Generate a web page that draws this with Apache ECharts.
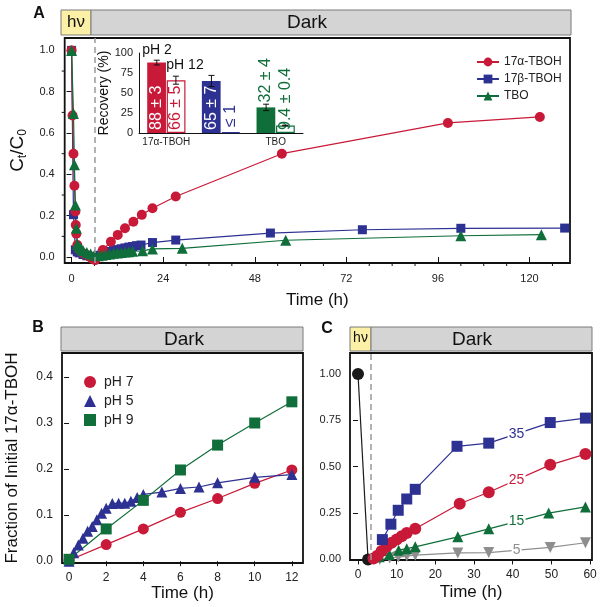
<!DOCTYPE html>
<html>
<head>
<meta charset="utf-8">
<script src="https://cdn.jsdelivr.net/npm/echarts@6/dist/echarts.min.js"></script>
<style>
html, body { margin: 0; padding: 0; background: #fff; }
#chart { width: 603px; height: 607px; }
</style>
</head>
<body>
<div id="chart"></div>
<script>
// ---- panel A : [time (h), Ct/C0]
var aTboh17a = [[0, 1.0], [0.25, 0.685], [0.5, 0.50], [0.75, 0.345], [1, 0.22], [1.1, 0.155], [1.25, 0.113],
    [1.5, 0.058], [2, 0.034], [3, 0.018], [4, 0.01], [4.8, 0.0], [5.5, -0.01], [6.2, -0.015], [8.2, 0.034],
    [10.3, 0.074], [12.1, 0.107], [14, 0.139], [16.2, 0.171], [18.4, 0.204], [21.2, 0.236], [27.3, 0.293],
    [55.1, 0.50], [98.6, 0.649], [122.7, 0.678]];
var aTboh17b = [[0, 1.0], [0.5, 0.205], [1, 0.035], [1.5, 0.025], [2, 0.02], [3, 0.012], [4, 0.006], [5, 0.003],
    [6, 0.002], [7, 0.008], [8, 0.015], [9, 0.02], [10, 0.027], [11, 0.032], [12, 0.036], [13, 0.04], [14, 0.044],
    [15, 0.048], [16, 0.051], [17, 0.055], [18.2, 0.058], [21.2, 0.07], [27.3, 0.082], [52.1, 0.116],
    [76.2, 0.132], [102, 0.139], [129.2, 0.14]];
var aTbo = [[0, 1.0], [0.5, 0.694], [0.75, 0.447], [1, 0.252], [1.25, 0.139], [1.5, 0.062], [2, 0.048], [2.5, 0.04],
    [3, 0.032], [4, 0.022], [5, 0.014], [6, 0.008], [7, 0.006], [8, 0.009], [9, 0.012], [10, 0.015], [11, 0.018],
    [12, 0.02], [13, 0.022], [14, 0.024], [15, 0.026], [16, 0.028], [18.6, 0.03], [21.2, 0.039], [29, 0.042],
    [56.1, 0.081], [102, 0.103], [123.1, 0.108]];
var aTimeTicks = [0, 24, 48, 72, 96, 120];
var aTimeMinor = [6, 12, 18, 30, 36, 42, 54, 60, 66, 78, 84, 90, 102, 108, 114, 126];
var aRatioTicks = [0, 0.2, 0.4, 0.6, 0.8, 1.0];
var aRatioMinor = [0.1, 0.3, 0.5, 0.7, 0.9];
var aDarkStart = 6.2;

// ---- panel A inset : recovery (%)
var insetCats = ['17α-TBOH', '17β-TBOH', 'TBO'];
var recPH2 = [88, 65, 32];
var errPH2 = [3, 7, 4];
var recPH12 = [66, 1, 9.4];
var errPH12 = [5, 0, 0.4];
var labelPH2 = ['88 ± 3', '65 ± 7', '32 ± 4'];
var labelPH12 = ['66 ± 5', '≤ 1', '9.4 ± 0.4'];

// ---- panel B : fraction of initial 17a-TBOH
var bHours = [0, 2, 4, 6, 8, 10, 12];
var bPH7 = [0.002, 0.036, 0.07, 0.106, 0.136, 0.169, 0.198];
var bPH9 = [0.004, 0.07, 0.132, 0.198, 0.252, 0.30, 0.346];
var bPH5 = [[0, 0.0], [0.25, 0.018], [0.5, 0.035], [0.75, 0.05], [1, 0.065], [1.25, 0.075], [1.5, 0.09],
    [1.75, 0.104], [2, 0.115], [2.33, 0.125], [2.67, 0.126], [3, 0.126], [3.33, 0.13], [3.67, 0.138],
    [4, 0.145], [5, 0.15], [6, 0.158], [7, 0.161], [8, 0.17], [10, 0.182], [12, 0.188]];
var bTimeTicks = [0, 2, 4, 6, 8, 10, 12];
var bFracTicks = [0, 0.1, 0.2, 0.3, 0.4];

// ---- panel C : photolysis time series (labels 35/25/15/5)
var cStart = [[0, 1.0], [2.6, 0.0]];
var c35 = [[6.3, 0.107], [8.5, 0.19], [10.4, 0.265], [12.6, 0.326], [14.8, 0.378], [25.6, 0.61], [33.8, 0.627],
    [49.7, 0.738], [58.8, 0.762]];
var c25 = [[4.0, 0.005], [5, 0.02], [6.1, 0.045], [7.4, 0.07], [8.7, 0.09], [10, 0.107], [11.3, 0.125],
    [12.6, 0.143], [14.8, 0.165], [26.3, 0.30], [33.8, 0.362], [49.7, 0.51], [58.8, 0.568]];
var c15 = [[5.5, 0.015], [8.1, 0.027], [10.5, 0.05], [12.6, 0.058], [14.8, 0.068], [25.8, 0.122], [33.8, 0.165],
    [49.3, 0.25], [58.8, 0.283]];
var c5 = [[5.6, 0.0], [8.2, 0.008], [10.4, 0.013], [12.6, 0.018], [14.8, 0.023], [25.8, 0.035], [33.8, 0.037],
    [49.7, 0.065], [58.8, 0.09]];
var cTimeTicks = [0, 10, 20, 30, 40, 50, 60];
var cFracTicks = [0, 0.25, 0.5, 0.75, 1.0];
var cDarkStart = 3.4;
var cLabelAt = 41;

var FONT = '"Liberation Sans", Arial, Helvetica, sans-serif';
var RED = '#C81A38', BLUE = '#2D3192', GREEN = '#0F6E3A', GRAY = '#8E8E8E', BLACK = '#1A1A1A';
var INK = '#222';

var chart = echarts.init(document.getElementById('chart'));

// y on the polyline at time x (used only to sit the curve labels on their line)
function onLine(pts, x) {
    for (var i = 1; i < pts.length; i++) {
        if (x <= pts[i][0]) {
            var f = (x - pts[i - 1][0]) / (pts[i][0] - pts[i - 1][0]);
            return pts[i - 1][1] + f * (pts[i][1] - pts[i - 1][1]);
        }
    }
    return pts[pts.length - 1][1];
}

function tickAxis(grid, pos, min, max, ticks, fmt, size, margin) {
    return {
        type: 'value', gridIndex: grid, position: pos, min: min, max: max,
        axisLine: { show: false }, splitLine: { show: false },
        axisTick: { customValues: ticks, length: 5, lineStyle: { color: '#111', width: 1 } },
        axisLabel: { customValues: ticks, formatter: fmt, fontSize: size, color: INK, margin: margin, fontFamily: FONT }
    };
}
function nameStyle(size) {
    return { fontSize: size, color: '#111', fontFamily: FONT };
}
function f1(v) { return v.toFixed(1); }
function f2(v) { return v.toFixed(2); }

var xA = tickAxis(0, 'bottom', -1.8, 130.6, aTimeTicks, function (v) { return String(v); }, 11, 10);
xA.name = 'Time (h)'; xA.nameLocation = 'middle'; xA.nameGap = 29; xA.nameTextStyle = nameStyle(17);
var yA = tickAxis(0, 'left', -0.029, 1.06, aRatioTicks, f1, 11, 10);
yA.name = '{m|C}{s|t}{m|/C}{s|0}'; yA.nameLocation = 'middle'; yA.nameGap = 35; yA.nameRotate = 90;
yA.nameTextStyle = {
    color: '#111', fontFamily: FONT,
    rich: {
        m: { fontSize: 19, lineHeight: 22, fontFamily: FONT, color: '#111' },
        s: { fontSize: 12, lineHeight: 12, verticalAlign: 'bottom', fontFamily: FONT, color: '#111' }
    }
};

var xB = tickAxis(2, 'bottom', -0.38, 12.6, bTimeTicks, function (v) { return String(v); }, 12, 9);
xB.name = 'Time (h)'; xB.nameLocation = 'middle'; xB.nameGap = 21; xB.nameTextStyle = nameStyle(17);
var yB = tickAxis(2, 'left', -0.004, 0.452, bFracTicks, f1, 12, 9);
yB.name = 'Fraction of Initial 17α-TBOH'; yB.nameLocation = 'middle'; yB.nameGap = 41; yB.nameRotate = 90;
yB.nameTextStyle = nameStyle(17);

var xC = tickAxis(3, 'bottom', -2.07, 60.5, cTimeTicks, function (v) { return String(v); }, 12, 9);
xC.name = 'Time (h)'; xC.nameLocation = 'middle'; xC.nameGap = 24; xC.nameTextStyle = nameStyle(17);
var yC = tickAxis(3, 'left', -0.003, 1.113, cFracTicks, f2, 11, 9);

var xInset = {
    type: 'category', gridIndex: 1, data: insetCats,
    axisLine: { lineStyle: { color: '#111', width: 1 } },
    axisTick: { length: 3, lineStyle: { color: '#111' } },
    axisLabel: { fontSize: 10, color: INK, margin: 4, fontFamily: FONT }
};
var yInset = {
    type: 'value', gridIndex: 1, min: 0, max: 100, interval: 25,
    axisLine: { show: true, lineStyle: { color: '#111', width: 1 } },
    axisTick: { length: 4, lineStyle: { color: '#111' } },
    splitLine: { show: false },
    axisLabel: { fontSize: 11, color: INK, margin: 6, fontFamily: FONT },
    name: 'Recovery (%)', nameLocation: 'middle', nameGap: 25, nameRotate: 90,
    nameTextStyle: nameStyle(14)
};

var barColors = [RED, BLUE, GREEN];
var ph2LabelColor = ['#fff', '#fff', GREEN];
var ph2LabelPos = ['insideBottom', 'insideBottom', 'top'];
var ph12LabelPos = ['insideBottom', 'top', 'insideBottom'];

function barLabel(text, color, pos) {
    return {
        show: true, formatter: text, color: color, position: pos, rotate: 90,
        align: 'left', verticalAlign: 'middle', distance: pos === 'top' ? 5 : 3,
        fontSize: 16, fontFamily: FONT
    };
}
var ph2Data = recPH2.map(function (v, i) {
    return { value: v, itemStyle: { color: barColors[i] }, label: barLabel(labelPH2[i], ph2LabelColor[i], ph2LabelPos[i]) };
});
var ph12Data = recPH12.map(function (v, i) {
    return {
        value: v,
        itemStyle: { color: i === 1 ? BLUE : '#fff', borderColor: barColors[i], borderWidth: 1.2 },
        label: barLabel(labelPH12[i], barColors[i], ph12LabelPos[i])
    };
});
var errData = [];
recPH2.forEach(function (v, i) { if (errPH2[i]) errData.push([i, v, errPH2[i], -1]); });
recPH12.forEach(function (v, i) { if (errPH12[i]) errData.push([i, v, errPH12[i], 1]); });

function renderErr(params, api) {
    var ci = api.value(0), v = api.value(1), e = api.value(2), side = api.value(3);
    var band = api.size([1, 0])[0];
    var bw = band * 0.7 / 2;
    var x = api.coord([ci, v])[0] + side * bw / 2;
    var yt = api.coord([ci, v + e])[1], yb = api.coord([ci, v - e])[1];
    var st = { stroke: '#111', lineWidth: 1 };
    return {
        type: 'group', children: [
            { type: 'line', shape: { x1: x, y1: yt, x2: x, y2: yb }, style: st },
            { type: 'line', shape: { x1: x - 3, y1: yt, x2: x + 3, y2: yt }, style: st },
            { type: 'line', shape: { x1: x - 3, y1: yb, x2: x + 3, y2: yb }, style: st }
        ]
    };
}

// short outward minor ticks on panel A, placed through the panel's own scales
function renderMinorX(params, api) {
    var cs = params.coordSys;
    var x = api.coord([api.value(0), 0])[0];
    var y = cs.y + cs.height;
    return { type: 'line', shape: { x1: x, y1: y, x2: x, y2: y + 3 }, style: { stroke: '#111', lineWidth: 1 } };
}
function renderMinorY(params, api) {
    var cs = params.coordSys;
    var y = api.coord([0, api.value(0)])[1];
    return { type: 'line', shape: { x1: cs.x - 3, y1: y, x2: cs.x, y2: y }, style: { stroke: '#111', lineWidth: 1 } };
}

function lineSeries(name, xi, yi, data, color, symbol, size, extra) {
    var s = {
        name: name, type: 'line', xAxisIndex: xi, yAxisIndex: yi, data: data,
        symbol: symbol, symbolSize: size, showAllSymbol: true,
        lineStyle: { color: color, width: 1.2 }, itemStyle: { color: color },
        emphasis: { disabled: true }
    };
    for (var k in extra) s[k] = extra[k];
    return s;
}
function darkLine(x) {
    return {
        silent: true, symbol: 'none', label: { show: false },
        lineStyle: { color: '#9A9A9A', width: 1.5, type: [6, 4] },
        data: [{ xAxis: x }]
    };
}
function curveTag(text, pts, color, w) {
    return {
        silent: true, symbol: 'rect', symbolSize: [w, 13],
        itemStyle: { color: '#fff' },
        label: { show: true, position: 'inside', formatter: text, color: color, fontSize: 14, fontFamily: FONT },
        data: [{ coord: [cLabelAt, onLine(pts, cLabelAt)] }]
    };
}

function band(x, y, w, h, fill) {
    return { type: 'rect', shape: { x: x, y: y, width: w, height: h }, style: { fill: fill, stroke: '#7A7A7A', lineWidth: 1 } };
}
function txt(x, y, text, size, weight) {
    return {
        type: 'text', x: x, y: y,
        style: { text: text, fontSize: size, fontWeight: weight || 'normal', fontFamily: FONT, fill: '#111',
                 align: 'center', verticalAlign: 'middle', textAlign: 'center', textVerticalAlign: 'middle' }
    };
}

var option = {
    animation: false,
    backgroundColor: '#fff',
    textStyle: { fontFamily: FONT },
    grid: [
        { left: 60, top: 38, width: 510, height: 225, show: true, borderColor: '#111', borderWidth: 1.8, backgroundColor: 'transparent' },
        { left: 139, top: 53, width: 164, height: 80 },
        { left: 62, top: 353, width: 241, height: 210, show: true, borderColor: '#111', borderWidth: 1.8, backgroundColor: 'transparent' },
        { left: 350, top: 353, width: 242, height: 207, show: true, borderColor: '#111', borderWidth: 1.8, backgroundColor: 'transparent' }
    ],
    xAxis: [xA, xInset, xB, xC],
    yAxis: [yA, yInset, yB, yC],
    legend: [
        {
            orient: 'vertical', left: 471, top: 51, itemWidth: 22, itemHeight: 11, itemGap: 5,
            textStyle: { fontSize: 12, color: INK, fontFamily: FONT },
            data: ['17α-TBOH', '17β-TBOH', 'TBO'], selectedMode: false
        },
        {
            orient: 'vertical', left: 79, top: 370, itemWidth: 12, itemHeight: 12, itemGap: 5,
            textStyle: { fontSize: 14, color: INK, fontFamily: FONT, padding: [0, 0, 0, 3] },
            data: [{ name: 'pH 7', icon: 'circle' }, { name: 'pH 5', icon: 'triangle' }, { name: 'pH 9', icon: 'rect' }],
            selectedMode: false
        }
    ],
    series: [
        { name: 'minorX', type: 'custom', xAxisIndex: 0, yAxisIndex: 0, clip: false, silent: true,
          data: aTimeMinor.map(function (t) { return [t]; }), encode: { x: 0 }, renderItem: renderMinorX },
        { name: 'minorY', type: 'custom', xAxisIndex: 0, yAxisIndex: 0, clip: false, silent: true,
          data: aRatioMinor.map(function (v) { return [v]; }), encode: { y: 0 }, renderItem: renderMinorY },

        lineSeries('17β-TBOH', 0, 0, aTboh17b, BLUE, 'rect', 9, { markLine: darkLine(aDarkStart) }),
        lineSeries('17α-TBOH', 0, 0, aTboh17a, RED, 'circle', 10, {}),
        lineSeries('TBO', 0, 0, aTbo, GREEN, 'triangle', 11, {}),

        { name: 'pH 2', type: 'bar', xAxisIndex: 1, yAxisIndex: 1, data: ph2Data, barGap: '4%', barCategoryGap: '30%' },
        { name: 'pH 12', type: 'bar', xAxisIndex: 1, yAxisIndex: 1, data: ph12Data, barGap: '4%', barCategoryGap: '30%' },
        { name: 'err', type: 'custom', xAxisIndex: 1, yAxisIndex: 1, data: errData, renderItem: renderErr, z: 5, silent: true },

        lineSeries('pH 7', 2, 2, bHours.map(function (t, i) { return [t, bPH7[i]]; }), RED, 'circle', 11, {}),
        lineSeries('pH 5', 2, 2, bPH5, BLUE, 'triangle', 11, {}),
        lineSeries('pH 9', 2, 2, bHours.map(function (t, i) { return [t, bPH9[i]]; }), GREEN, 'rect', 11, {}),

        lineSeries('start', 3, 3, cStart, BLACK, 'circle', 12, { markLine: darkLine(cDarkStart) }),
        lineSeries('5', 3, 3, c5, GRAY, 'triangle', 11, { symbolRotate: 180, markPoint: curveTag('5', c5, GRAY, 10) }),
        lineSeries('15', 3, 3, c15, GREEN, 'triangle', 11, { markPoint: curveTag('15', c15, GREEN, 18) }),
        lineSeries('25', 3, 3, c25, RED, 'circle', 12, { markPoint: curveTag('25', c25, RED, 18) }),
        lineSeries('35', 3, 3, c35, BLUE, 'rect', 11, { markPoint: curveTag('35', c35, BLUE, 18) })
    ],
    graphic: [
        band(61, 10, 30, 25, '#FCEFA6'), band(91, 10, 480, 25, '#D4D4D4'),
        txt(76, 22.5, 'hν', 17), txt(307, 22.5, 'Dark', 19),
        band(61, 327, 242, 24, '#D4D4D4'), txt(184, 340, 'Dark', 19),
        band(350, 327, 21, 24, '#FCEFA6'), band(371, 327, 221, 24, '#D4D4D4'),
        txt(360.5, 338, 'hν', 14), txt(472, 340, 'Dark', 19),
        txt(157, 50, 'pH 2', 14), txt(185, 65, 'pH 12', 14),
        txt(39, 14, 'A', 16, 'bold'), txt(38, 328, 'B', 16, 'bold'), txt(327, 329, 'C', 16, 'bold')
    ]
};
chart.setOption(option);
</script>
</body>
</html>
